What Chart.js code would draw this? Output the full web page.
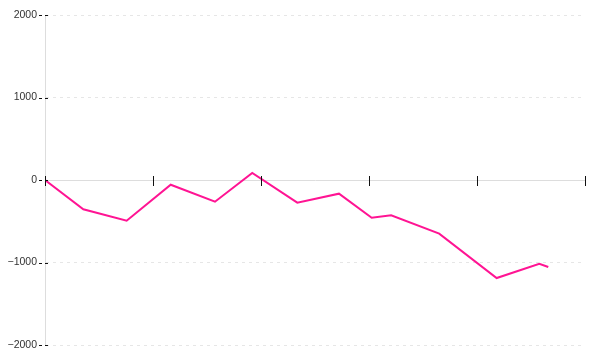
<!DOCTYPE html>
<html>
<head>
<meta charset="utf-8">
<script src="https://cdn.jsdelivr.net/npm/chart.js@4/dist/chart.umd.min.js"></script>
<style>
  html, body { margin: 0; padding: 0; background: #fff; }
  #wrap { width: 600px; height: 360px; }
</style>
</head>
<body>
<div id="wrap"><canvas id="grafico"></canvas></div>
<script>
// datos
var posiciones = [0, 3.55, 7.56, 11.64, 15.74, 19.19, 23.36, 27.22, 30.25, 32.05, 36.5, 41.82, 45.77, 46.6];
var valores = [0, -355, -493, -57, -263, 85, -275, -166, -457, -428, -650, -1188, -1015, -1055];
var ticksY = [2000, 1000, 0, -1000, -2000];
var ticksX = [0, 10, 20, 30, 40, 50];

var puntos = [];
for (var i = 0; i < posiciones.length; i++) {
    puntos.push({ x: posiciones[i], y: valores[i] });
}

// marcas de los ejes que cruzan la linea del eje
var marcasEjes = {
    id: 'marcasEjes',
    afterDraw: function(chart) {
        var ctx = chart.ctx;
        var ex = chart.scales.x;
        var ey = chart.scales.y;
        var y0 = ey.getPixelForValue(0);
        var x0 = ex.getPixelForValue(0);
        ctx.save();
        ctx.strokeStyle = '#111';
        ctx.lineWidth = 1;
        for (var i = 0; i < ticksX.length; i++) {
            var px = Math.round(ex.getPixelForValue(ticksX[i])) + 0.5;
            ctx.beginPath();
            ctx.moveTo(px, y0 - 4);
            ctx.lineTo(px, y0 + 6);
            ctx.stroke();
        }
        ctx.setLineDash([3, 3]);
        for (var j = 0; j < ticksY.length; j++) {
            var py = Math.round(ey.getPixelForValue(ticksY[j])) + 0.5;
            ctx.beginPath();
            ctx.moveTo(x0 - 6, py);
            ctx.lineTo(x0 + 4, py);
            ctx.stroke();
        }
        ctx.restore();
    }
};

new Chart(document.getElementById('grafico'), {
    type: 'line',
    data: {
        datasets: [{
            data: puntos,
            borderColor: '#ff1493',
            borderWidth: 2,
            pointRadius: 0,
            tension: 0,
            fill: false
        }]
    },
    options: {
        responsive: true,
        maintainAspectRatio: false,
        animation: false,
        layout: { padding: { top: 15, bottom: 15, right: 15, left: 0 } },
        plugins: {
            legend: { display: false },
            tooltip: { enabled: false }
        },
        scales: {
            x: {
                type: 'linear',
                position: { y: 0 },
                min: 0,
                max: 50,
                afterBuildTicks: function(scale) {
                    scale.ticks = ticksX.map(function(v) { return { value: v }; });
                },
                ticks: { display: false },
                grid: { display: false },
                border: { display: true, color: '#dddddd', width: 1 }
            },
            y: {
                min: -2000,
                max: 2000,
                afterBuildTicks: function(scale) {
                    scale.ticks = ticksY.map(function(v) { return { value: v }; });
                },
                afterFit: function(scale) { scale.width = 45; },
                ticks: {
                    padding: 2,
                    color: '#333',
                    font: { family: 'Liberation Sans', size: 10.5 },
                    callback: function(v) { return String(v).replace('-', '\u2212'); }
                },
                grid: {
                    color: '#e6e6e6',
                    tickLength: 6,
                    tickColor: 'rgba(0,0,0,0)'
                },
                border: { display: true, color: '#dddddd', width: 1, dash: [3, 4] }
            }
        }
    },
    plugins: [marcasEjes]
});
</script>
</body>
</html>
